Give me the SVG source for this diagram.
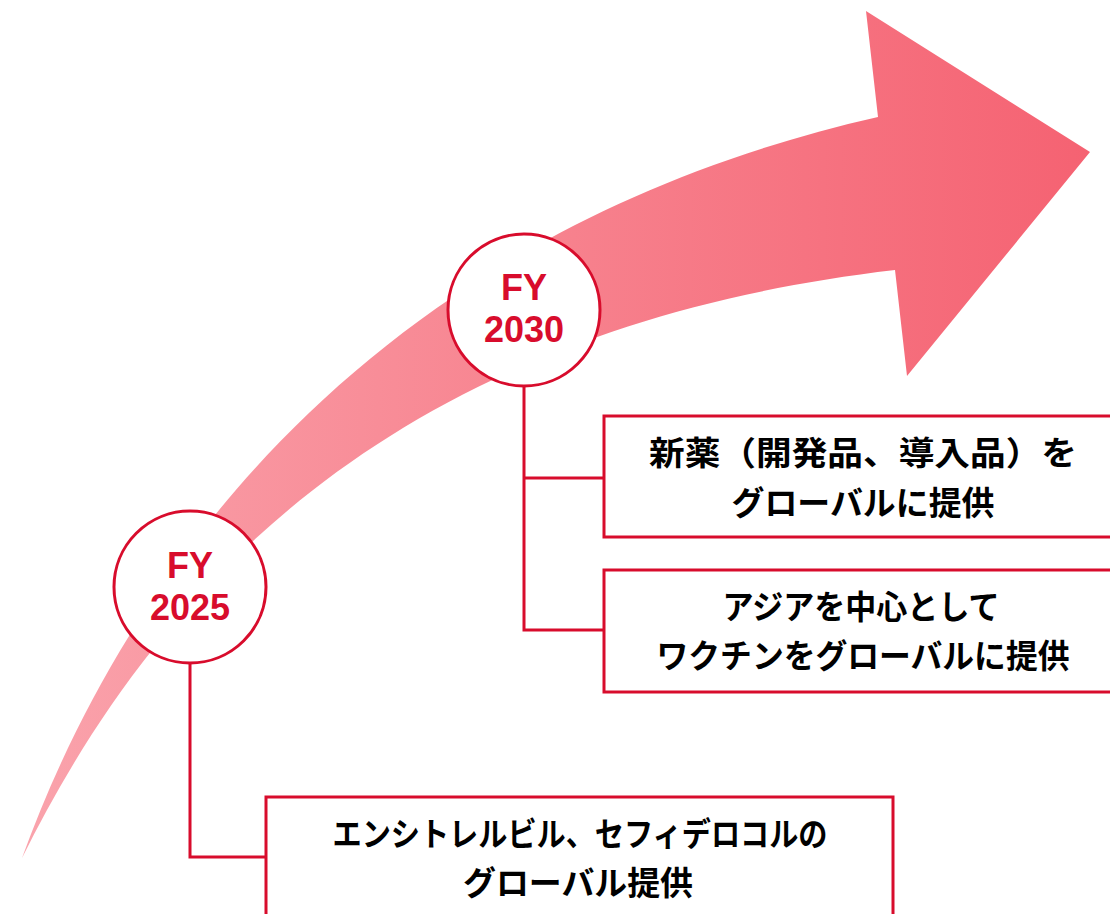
<svg xmlns="http://www.w3.org/2000/svg" width="1110" height="914" viewBox="0 0 1110 914">
<defs>
<linearGradient id="ag" x1="22" y1="0" x2="1090" y2="0" gradientUnits="userSpaceOnUse">
<stop offset="0" stop-color="#faa3ac"/>
<stop offset="0.5" stop-color="#f7828e"/>
<stop offset="1" stop-color="#f56272"/>
</linearGradient>
<style>
.red{stroke:#d80c2c;stroke-width:3;fill:none}
.circ{stroke:#d80c2c;stroke-width:3;fill:#fff}
.box{stroke:#d80c2c;stroke-width:3;fill:#fff}
.fy{font-family:"Liberation Sans",Arial,sans-serif;font-weight:700;font-size:36px;fill:#d80c2c;text-anchor:middle}
.jp{font-family:"Noto Sans CJK JP","Noto Sans",sans-serif;font-weight:700;font-size:33px;fill:#000;text-anchor:middle}
</style>
</defs>
<g id="arrow">
<path d="M22,858 C130,560 380,230 878,117 L866,11 L1090,152 L907,376 L895,270 C380,330 150,600 22,858 Z" fill="url(#ag)"/>
</g>
<g id="connectors">
<path class="red" d="M190,663 V857 H266"/>
<path class="red" d="M524,387 V630 H604 M524,478 H604"/>
</g>
<g id="box1">
<rect class="box" x="604" y="416" width="520" height="121"/>
<text class="jp" x="863" y="465" textLength="428" lengthAdjust="spacingAndGlyphs">新薬（開発品、導入品）を</text>
<text class="jp" x="863" y="515" textLength="263" lengthAdjust="spacingAndGlyphs">グローバルに提供</text>
</g>
<g id="box2">
<rect class="box" x="604" y="570" width="520" height="122"/>
<text class="jp" x="861" y="619" textLength="277" lengthAdjust="spacingAndGlyphs">アジアを中心として</text>
<text class="jp" x="863" y="668" textLength="413" lengthAdjust="spacingAndGlyphs">ワクチンをグローバルに提供</text>
</g>
<g id="box3">
<rect class="box" x="266" y="797" width="627" height="140"/>
<text class="jp" x="580" y="846" textLength="495" lengthAdjust="spacingAndGlyphs">エンシトレルビル、セフィデロコルの</text>
<text class="jp" x="578" y="895" textLength="230" lengthAdjust="spacingAndGlyphs">グローバル提供</text>
</g>
<g id="fy2025">
<circle class="circ" cx="190" cy="587" r="76"/>
<text class="fy" x="190" y="578">FY</text>
<text class="fy" x="190" y="620">2025</text>
</g>
<g id="fy2030">
<circle class="circ" cx="524" cy="310" r="76"/>
<text class="fy" x="524" y="300">FY</text>
<text class="fy" x="524" y="342">2030</text>
</g>
</svg>
